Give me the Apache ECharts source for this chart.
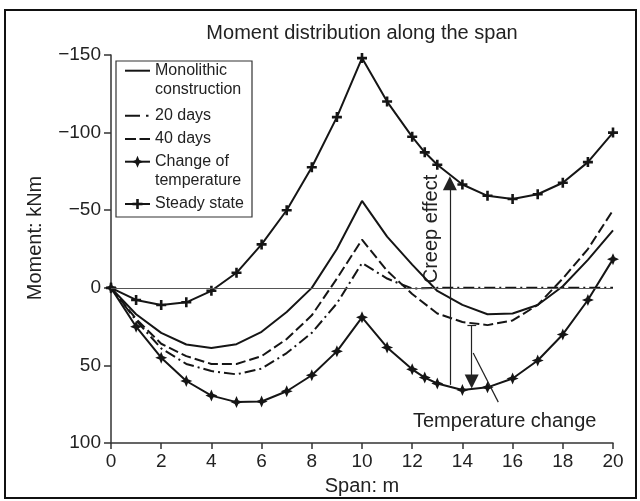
<!DOCTYPE html>
<html><head><meta charset="utf-8">
<script src="https://cdn.jsdelivr.net/npm/echarts@6/dist/echarts.min.js"></script>
<style>html,body{margin:0;padding:0;background:#fff}#c{width:640px;height:501px}</style>
</head><body><div id="c"></div>
<script>
// ---- data ----
const spanInt  = [0,1,2,3,4,5,6,7,8,9,10,11,12,13,14,15,16,17,18,19,20];
const spanFine = [0,1,2,3,4,5,6,7,8,9,10,11,12,12.5,13,14,15,16,17,18,19,20];
const monolithic  = [0,17,29,36.5,38.8,36.3,28.3,15.6,0,-25,-56,-33,-15,2,11,17,16.5,11,-1,-18,-37];
const days20      = [0,21,39,49,53.6,55.7,52,42,29,10,-16,-6,0.5,0,0,0,0,0,0,0,0];
const days40      = [0,20,36,44,49,49,44,33,17.7,-6,-31,-11,4,16.5,22,24,21,11,-6,-25,-50];
const tempChange  = [0,25,45,60,69.4,73.6,73.2,66.6,56.3,40.9,19,38.4,52.5,57.8,61.6,65.8,64.1,58.4,46.8,30,7.8,-18.5];
const steadyState = [0,7.8,11,9.3,1.9,-9.7,-28,-50,-77.7,-110,-148,-120,-97.3,-87.3,-79.3,-66.6,-59.3,-57.2,-60.3,-67.7,-81,-100];
const seriesNames = ['Monolithic construction','20 days','40 days','Change of temperature','Steady state'];
const legendLines = [['Monolithic','construction'],['20 days'],['40 days'],['Change of','temperature'],['Steady state']];
const xTickLabels = [0,2,4,6,8,10,12,14,16,18,20];
const yTickLabels = [-150,-100,-50,0,50,100];
const titleText = 'Moment distribution along the span';
const xName = 'Span: m', yName = 'Moment: kNm';
const creepLabel = 'Creep effect', tempLabel = 'Temperature change';
// annotation anchors in data units
const creepArrow = {x:13.5, from:62.5, to:-67.4};
const tempArrow  = {x:14.37, from:24, to:60.4, capL:14.2, capR:14.55};
const leader     = [[14.43,42],[15.43,73.6]];

// ---- styles ----
const FONT = 'Liberation Sans, Arial, Helvetica, sans-serif';
const INK = '#151515';
const PLUS = 'M3.7,0H6.3V3.7H10V6.3H6.3V10H3.7V6.3H0V3.7H3.7Z';
const STAR = 'M5,0L6.5,3.5L10,5L6.5,6.5L5,10L3.5,6.5L0,5L3.5,3.5Z';
const STAR_PTS = [[5,0],[6.5,3.5],[10,5],[6.5,6.5],[5,10],[3.5,6.5],[0,5],[3.5,3.5]];
const dashDot = [11,4,2,4];
const dashed = [10,4];
const pairs = (xs, ys) => xs.map((x,i)=>[x, ys[i]]);

const chart = echarts.init(document.getElementById('c'), null, {renderer:'canvas'});

const lineBase = {type:'line', silent:true, animation:false, smooth:false};
const series = [
  Object.assign({}, lineBase, {name:seriesNames[0], data:pairs(spanInt, monolithic), symbol:'none',
    lineStyle:{color:INK, width:2},
    markLine:{silent:true, symbol:'none', animation:false, label:{show:false},
      lineStyle:{color:'#555', width:1, type:'solid'}, data:[{yAxis:0}]}}),
  Object.assign({}, lineBase, {name:seriesNames[1], data:pairs(spanInt, days20), symbol:'none',
    lineStyle:{color:INK, width:2, type:dashDot}}),
  Object.assign({}, lineBase, {name:seriesNames[2], data:pairs(spanInt, days40), symbol:'none',
    lineStyle:{color:INK, width:2, type:dashed}}),
  Object.assign({}, lineBase, {name:seriesNames[3], data:pairs(spanFine, tempChange),
    symbol:'path://'+STAR, symbolSize:12, itemStyle:{color:INK}, lineStyle:{color:INK, width:2}}),
  Object.assign({}, lineBase, {name:seriesNames[4], data:pairs(spanFine, steadyState),
    symbol:'path://'+PLUS, symbolSize:10, itemStyle:{color:INK}, lineStyle:{color:INK, width:2},
    markLine:{silent:true, animation:false, label:{show:false}, symbol:'none',
      lineStyle:{color:'#222', width:1.2, type:'solid'},
      data:[
        [{coord:[creepArrow.x, creepArrow.from], symbol:'none'},
         {coord:[creepArrow.x, creepArrow.to], symbol:'triangle', symbolSize:14}],
        [{coord:[tempArrow.x, tempArrow.from], symbol:'none'},
         {coord:[tempArrow.x, tempArrow.to], symbol:'triangle', symbolSize:14}],
        [{coord:[tempArrow.capL, tempArrow.from], symbol:'none'},
         {coord:[tempArrow.capR, tempArrow.from], symbol:'none'}],
        [{coord:leader[0], symbol:'none'},{coord:leader[1], symbol:'none'}]
      ]}})
];

// legend built as graphic
const legendYs = [70.7, 115.7, 139, 161.7, 204];
const legendStyles = [
  {dash:null, marker:null},{dash:[15,6,2.5,6], marker:null},{dash:[11,3.5], marker:null},
  {dash:null, marker:'star', size:12},{dash:null, marker:'plus', size:10}
];
const legendEls = [{type:'rect', shape:{x:116, y:61, width:136, height:156},
  style:{fill:'#fff', stroke:'#333', lineWidth:1.2}, z:100}];
legendLines.forEach((lines, i) => {
  const y = legendYs[i], st = legendStyles[i];
  const lineStyle = {stroke:INK, lineWidth:2};
  if (st.dash) lineStyle.lineDash = st.dash;
  legendEls.push({type:'line', shape:{x1:125, y1:y, x2:150, y2:y}, style:lineStyle, z:101});
  const cx = 137.5, s = st.size;
  if (st.marker === 'star') {
    legendEls.push({type:'polygon', z:102, style:{fill:INK},
      shape:{points:STAR_PTS.map(p=>[cx - s/2 + p[0]*s/10, y - s/2 + p[1]*s/10])}});
  } else if (st.marker === 'plus') {
    legendEls.push({type:'rect', z:102, style:{fill:INK}, shape:{x:cx-s/2, y:y-1.3, width:s, height:2.6}});
    legendEls.push({type:'rect', z:102, style:{fill:INK}, shape:{x:cx-1.3, y:y-s/2, width:2.6, height:s}});
  }
  lines.forEach((t, j) => legendEls.push({type:'text', x:155, y:y + j*19.3, z:101,
    style:{text:t, font:'16px '+FONT, fill:'#222', textAlign:'left', textVerticalAlign:'middle'}}));
});

const option = {
  animation:false,
  backgroundColor:'#fff',
  grid:{left:111, right:27, top:55, bottom:50, containLabel:false},
  xAxis:{type:'value', min:xTickLabels[0], max:xTickLabels[xTickLabels.length-1], interval:2,
    name:xName, nameLocation:'middle', nameGap:25,
    nameTextStyle:{fontFamily:FONT, fontSize:20, color:'#222'},
    axisLine:{show:true, onZero:false, lineStyle:{color:'#333', width:1.5}},
    axisTick:{show:true, length:6, lineStyle:{color:'#333', width:1.5}},
    axisLabel:{margin:9, fontFamily:FONT, fontSize:19, color:'#222'},
    splitLine:{show:false}},
  yAxis:{type:'value', inverse:true, min:yTickLabels[0], max:yTickLabels[yTickLabels.length-1], interval:50,
    axisLine:{show:true, onZero:false, lineStyle:{color:'#333', width:1.5}},
    axisTick:{show:true, length:7, lineStyle:{color:'#333', width:1.5}},
    axisLabel:{margin:10, fontFamily:FONT, fontSize:19, color:'#222',
      formatter:v => String(v).replace('-', '\u2212')},
    splitLine:{show:false}},
  series:series,
  graphic:[
    {type:'rect', shape:{x:5, y:10, width:631, height:488}, style:{fill:'none', stroke:'#111', lineWidth:2}, z:0, silent:true},
    {type:'text', x:362, y:33, style:{text:titleText, font:'20px '+FONT, fill:'#222', textAlign:'center', textVerticalAlign:'middle'}},
    {type:'text', x:35, y:238, rotation:Math.PI/2, style:{text:yName, font:'20px '+FONT, fill:'#222', textAlign:'center', textVerticalAlign:'middle'}},
    {type:'text', x:431, y:229, rotation:Math.PI/2, style:{text:creepLabel, font:'20px '+FONT, fill:'#222', textAlign:'center', textVerticalAlign:'middle'}},
    {type:'text', x:413, y:421, style:{text:tempLabel, font:'20px '+FONT, fill:'#222', textAlign:'left', textVerticalAlign:'middle'}}
  ].concat(legendEls)
};
chart.setOption(option);
</script></body></html>
